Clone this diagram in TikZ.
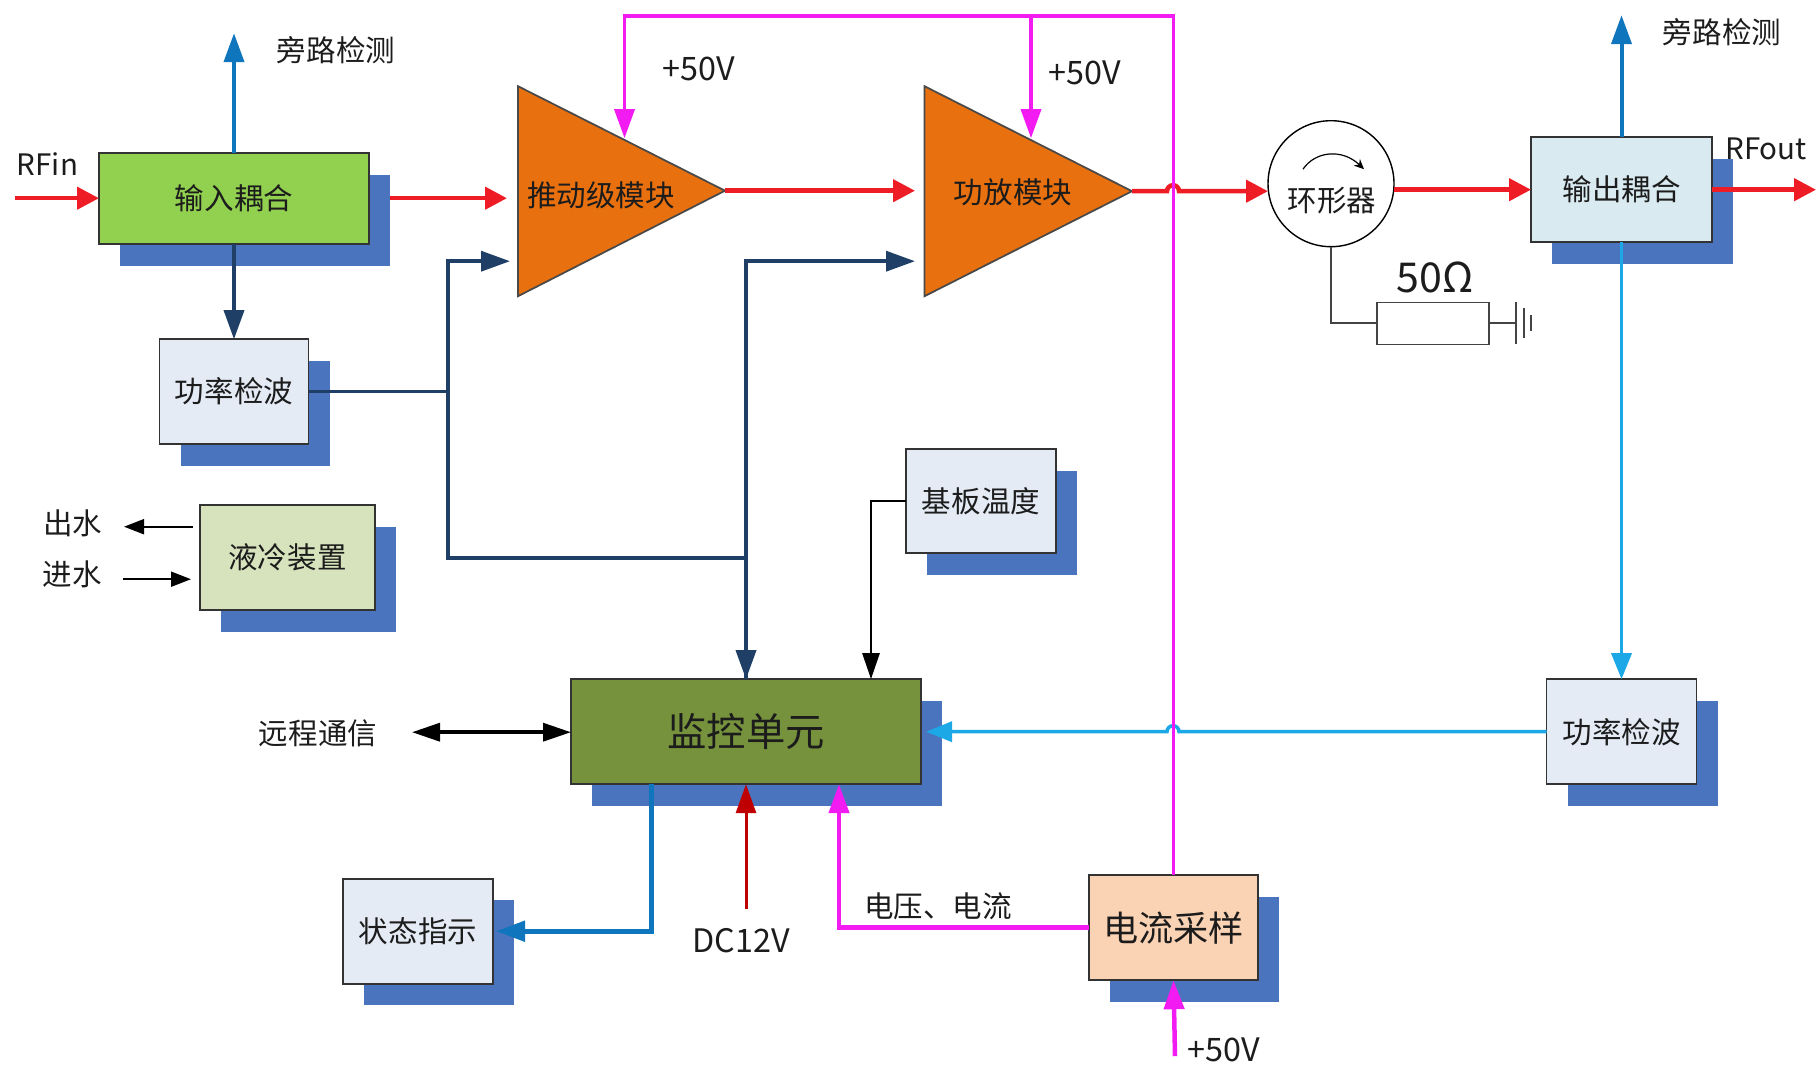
\documentclass[tikz,border=0pt]{standalone}
\usepackage{fontspec}
\setmainfont{Noto Sans CJK SC}
\usepackage{xcolor}
\usetikzlibrary{arrows.meta,shadows}
\definecolor{ink}{HTML}{1C1C1C}
\definecolor{shade}{HTML}{4A74BD}
\definecolor{rfred}{HTML}{EE1C25}
\definecolor{dcred}{HTML}{C00000}
\definecolor{pwrpink}{HTML}{F21CF2}
\definecolor{ctlnavy}{HTML}{1F3F66}
\definecolor{tapblue}{HTML}{0F75BC}
\definecolor{tapcyan}{HTML}{1CA8E6}
\definecolor{ampfill}{HTML}{E8700E}
\definecolor{wire}{HTML}{444444}
\definecolor{cplgreen}{HTML}{92D050}
\definecolor{cplblue}{HTML}{DAEAF1}
\definecolor{detpale}{HTML}{E4EBF5}
\definecolor{coolpale}{HTML}{D7E3BC}
\definecolor{monolive}{HTML}{76923C}
\definecolor{curpeach}{HTML}{FAD2B4}

\begin{document}
\begin{tikzpicture}[
  x=1cm, y=1cm,
  font=\fontsize{8.4}{10}\selectfont,
  box/.style={draw=ink!90, line width=0.5pt, align=center, inner sep=0pt,
              outer sep=0pt, text=ink, minimum height=1.05cm, minimum width=1.50cm,
              drop shadow={shadow xshift=0.21cm, shadow yshift=-0.215cm,
                           fill=shade, opacity=1}},
  amp/.style={draw=ink!80, line width=0.5pt, fill=ampfill},
  lab/.style={text=ink, inner sep=0pt},
  volt/.style={lab, font=\fontsize{9.2}{11}\selectfont},
  rfar/.style={-{Triangle[length=0.22cm,width=0.22cm]}, line width=0.045cm, draw=rfred},
  pwr/.style={-{Triangle[length=0.29cm,width=0.20cm]}, line width=0.035cm, draw=pwrpink},
  ctl/.style={-{Triangle[length=0.29cm,width=0.20cm]}, line width=0.035cm, draw=ctlnavy},
  tap/.style={-{Triangle[length=0.29cm,width=0.20cm]}, line width=0.04cm, draw=tapblue},
  cyn/.style={-{Triangle[length=0.26cm,width=0.20cm]}, line width=0.035cm, draw=tapcyan},
  blk/.style={-{Triangle[length=0.20cm,width=0.15cm]}, line width=0.02cm, draw=black},
  wir/.style={line width=0.02cm, draw=wire},
]
\useasboundingbox (0,0.012) rectangle (18.16,10.652);

% ---------------- blocks ----------------
\node[box, fill=cplgreen, minimum width=2.70cm, minimum height=0.91cm] (incpl) at (2.34,8.665) {输入耦合};
\node[box, fill=detpale, minimum width=1.49cm] (det1) at (2.34,6.735) {功率检波};
\node[box, fill=coolpale, minimum width=1.75cm] (cool) at (2.875,5.075) {液冷装置};
\node[box, fill=detpale, minimum height=1.04cm] (temp) at (9.81,5.64) {基板温度};
\node[box, fill=monolive, minimum width=3.50cm, font=\fontsize{11.2}{13}\selectfont] (mon) at (7.46,3.335) {监控单元};
\node[box, fill=detpale] (stat) at (4.18,1.34) {状态指示};
\node[box, fill=curpeach, minimum width=1.69cm, font=\fontsize{10}{12}\selectfont] (cur) at (11.735,1.375) {电流采样};
\node[box, fill=detpale] (det2) at (16.215,3.335) {功率检波};
\node[box, fill=cplblue, minimum width=1.81cm] (outcpl) at (16.215,8.755) {输出耦合};

% the two amplifier wedges
\draw[amp] (5.18,9.79) -- (7.25,8.745) coordinate (drvout) -- (5.18,7.69) -- cycle;
\draw[amp] (9.245,9.79) -- (11.32,8.74) coordinate (ampout) -- (9.245,7.69) -- cycle;
\node[lab] (drvlab) at (6.01,8.695) {推动级模块};
\node[lab] (amplab) at (10.13,8.73) {功放模块};

% circulator with its load
\node[draw=black, line width=0.4pt, circle, minimum size=1.26cm, inner sep=0pt, outer sep=0pt] (circ) at (13.31,8.815) {};
\node[lab] (circlab) at (13.32,8.65) {环形器};
\draw[-{Stealth[length=0.10cm,width=0.09cm]}, line width=0.012cm] (13.03,8.96) .. controls (13.15,9.14) and (13.42,9.17) .. (13.64,8.96);
\node[draw=wire, line width=0.4pt, fill=white, minimum width=1.12cm, minimum height=0.42cm, inner sep=0pt, outer sep=0pt] (load) at (14.33,7.42) {};
\node[lab, font=\fontsize{11.7}{13}\selectfont] (loadlab) at (14.35,7.88) {50Ω};
\coordinate (gnd) at (15.16,7.42);
\draw[wir] (circ.south) |- (load.west);
\draw[wir] (load.east) -- (gnd);
\draw[wir] (gnd) ++(0,0.21) -- ++(0,-0.42);
\draw[wir] (gnd) ++(0.08,0.15) -- ++(0,-0.30);
\draw[wir] (gnd) ++(0.15,0.08) -- ++(0,-0.16);

% ---------------- RF chain ----------------
\coordinate (rfin) at (0.15,8.67);
\coordinate (inout) at (3.90,8.67);
\coordinate (drvin) at (5.07,8.67);
\coordinate (ampin) at (9.15,8.745);
\coordinate (rfout) at (18.16,8.755);
\draw[rfar] (rfin) -- (incpl.west |- rfin);
\draw[rfar] (inout) -- (drvin);
\draw[rfar] (drvout) -- (ampin);
\draw[rfar] (ampout) -- (11.67,8.74) arc[start angle=180,end angle=0,radius=0.06] -- (circ.west |- ampout);
\draw[rfar] (circ.east |- outcpl.west) -- (outcpl.west);
\draw[rfar] (outcpl.east) -- (rfout);

% ---------------- couplers, detectors ----------------
\coordinate (tapin) at (2.34,10.32);
\coordinate (tapout) at (16.215,10.50);
\draw[tap] (incpl.north) -- (tapin);
\draw[tap] (outcpl.north) -- (tapout);
\draw[ctl] (incpl.south) -- (det1.north);
\draw[cyn] (outcpl.south) -- (det2.north);
\coordinate (moncy) at (9.26,3.335);
\draw[cyn] (det2.west) -- (11.79,3.335) arc[start angle=0,end angle=180,radius=0.06] -- (moncy);

% ---------------- control lines ----------------
\coordinate (jct) at (4.48,6.735);
\coordinate (jctb) at (7.46,5.07);
\coordinate (drvctl) at (5.10,8.04);
\coordinate (ampctl) at (9.15,8.04);
\draw[ctl, -] (det1.east) -- (jct);
\draw[ctl] (jct) |- (drvctl);
\draw[ctl, -] (jct) |- (jctb);
\draw[ctl] (mon.north) |- (ampctl);
\draw[ctl] (jctb) -- (mon.north);
\coordinate (montmp) at (8.71,3.86);
\draw[blk, line width=0.025cm, -{Triangle[length=0.26cm,width=0.17cm]}] (temp.west) -| (montmp);

% ---------------- supply lines ----------------
\coordinate (bus) at (6.245,10.49);
\coordinate (bust) at (10.31,10.49);
\coordinate (drvv) at (6.245,9.27);
\coordinate (ampv) at (10.31,9.27);
\draw[pwr] (cur.north) |- (bus) -- (drvv);
\draw[pwr] (bust) -- (ampv);
\coordinate (v50) at (11.75,0.09);
\draw[pwr, line width=0.045cm] (v50) -- (cur.south);
\coordinate (monuv) at (8.39,2.81);
\draw[pwr, line width=0.045cm] (cur.west) -| (monuv);

% ---------------- monitor unit ports ----------------
\coordinate (dcin) at (7.46,1.56);
\draw[pwr, draw=dcred, line width=0.03cm] (dcin) -- (mon.south);
\coordinate (monbl) at (6.515,2.81);
\coordinate (statin) at (4.96,1.34);
\draw[tap, line width=0.05cm] (monbl) |- (statin);
\coordinate (remote) at (4.12,3.33);
\draw[{Triangle[length=0.28cm,width=0.18cm]}-{Triangle[length=0.28cm,width=0.18cm]}, line width=0.035cm] (remote) -- (mon.west |- remote);
\coordinate (owout) at (1.24,5.385);
\coordinate (owin) at (1.23,4.86);
\draw[blk] (cool.west |- owout) ++(-0.07,0) -- (owout);
\draw[blk] (owin) -- ++(0.68,0);

% ---------------- labels ----------------
\node[lab] (rfinlab) at (0.475,9.01) {RFin};
\node[lab] (rfoutlab) at (17.66,9.16) {RFout};
\node[lab] (taplabl) at (3.36,10.15) {旁路检测};
\node[lab] (taplabr) at (17.22,10.33) {旁路检测};
\node[volt] (vlaba) at (6.99,9.96) {+50V};
\node[volt] (vlabb) at (10.85,9.92) {+50V};
\node[volt] (vlabc) at (12.24,0.15) {+50V};
\node[lab] (outwlab) at (0.73,5.42) {出水};
\node[lab] (inwlab) at (0.72,4.91) {进水};
\node[lab] (remlab) at (3.18,3.32) {远程通信};
\node[volt] (dclab) at (7.41,1.25) {DC12V};
\node[lab] (uilab) at (9.38,1.585) {电压、电流};

\end{tikzpicture}
\end{document}
